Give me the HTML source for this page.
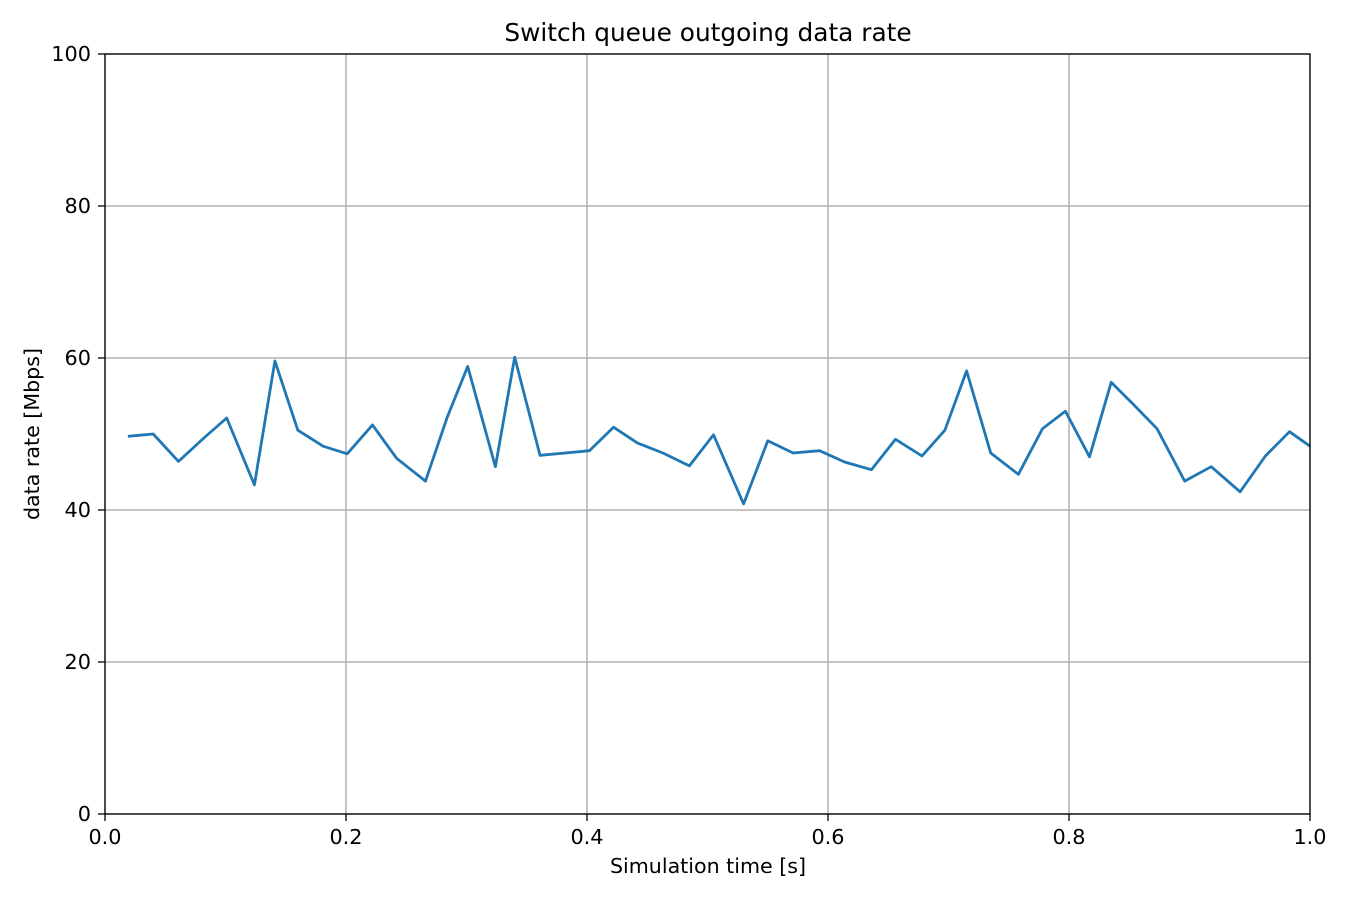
<!DOCTYPE html>
<html><head><meta charset="utf-8"><style>
body{margin:0;background:#fff}
svg text{font-family:"DejaVu Sans","Liberation Sans",sans-serif;fill:#000}
</style></head><body>
<svg id="chart" width="1350" height="900" xmlns="http://www.w3.org/2000/svg">
<rect width="1350" height="900" fill="#fff"/>
<g id="grid"></g>
<path id="series" fill="none" stroke="#1f77b4" stroke-width="2.8" stroke-linejoin="round"/>
<rect x="105" y="54" width="1205" height="760" fill="none" stroke="#000" stroke-width="1.3"/>
<g id="ticks"></g>
<text x="708" y="41" font-size="24.8" text-anchor="middle">Switch queue outgoing data rate</text>
<text x="708" y="873" font-size="20.6" text-anchor="middle">Simulation time [s]</text>
<text x="0" y="0" font-size="20.6" text-anchor="middle" transform="translate(39,434) rotate(-90)">data rate [Mbps]</text>
</svg>
<script>
const times=[0.019,0.040,0.061,0.083,0.101,0.124,0.141,0.160,0.181,0.201,0.222,0.242,0.266,0.284,0.301,0.324,0.340,0.361,0.382,0.402,0.422,0.442,0.463,0.485,0.505,0.530,0.550,0.571,0.593,0.614,0.636,0.656,0.678,0.697,0.715,0.735,0.758,0.778,0.797,0.817,0.835,0.854,0.873,0.896,0.918,0.942,0.963,0.983,1.0];
const rates=[49.7,50.0,46.4,49.6,52.1,43.3,59.6,50.5,48.4,47.4,51.2,46.8,43.8,52.2,58.9,45.7,60.1,47.2,47.5,47.8,50.9,48.8,47.5,45.8,49.9,40.8,49.1,47.5,47.8,46.3,45.3,49.3,47.1,50.5,58.3,47.5,44.7,50.7,53.0,47.0,56.8,53.8,50.7,43.8,45.7,42.4,47.1,50.3,48.4];
const xTicks=[0,0.2,0.4,0.6,0.8,1.0];
const xTickLabels=["0.0","0.2","0.4","0.6","0.8","1.0"];
const yTicks=[0,20,40,60,80,100];
const yTickLabels=["0","20","40","60","80","100"];
const X=v=>105+v*1205, Y=v=>814-v*7.6;
const NS="http://www.w3.org/2000/svg";
const grid=document.getElementById('grid'), ticks=document.getElementById('ticks');
function mk(tag,attrs,parent){const e=document.createElementNS(NS,tag);for(const k in attrs)e.setAttribute(k,attrs[k]);parent.appendChild(e);return e;}
xTicks.forEach((t,i)=>{
  const g=mk('line',{x1:X(t),x2:X(t),y1:54,y2:814,stroke:'#b0b0b0','stroke-width':1.5},grid);
  
  
  const tk=mk('line',{x1:X(t),x2:X(t),y1:814,y2:821,stroke:'#000','stroke-width':1.3},ticks);
  
  
  const tx=mk('text',{x:X(t),y:844,'font-size':20.8,'text-anchor':'middle'},ticks);
  tx.textContent=xTickLabels[i];
  
  
});
yTicks.forEach((t,i)=>{
  const g=mk('line',{x1:105,x2:1310,y1:Y(t),y2:Y(t),stroke:'#b0b0b0','stroke-width':1.5},grid);
  
  
  const tk=mk('line',{x1:98,x2:105,y1:Y(t),y2:Y(t),stroke:'#000','stroke-width':1.3},ticks);
  
  
  const tx=mk('text',{x:91,y:Y(t)+7,'font-size':20.8,'text-anchor':'end'},ticks);
  tx.textContent=yTickLabels[i];
  
  
});
document.getElementById('series').setAttribute('d',times.map((t,i)=>(i?'L':'M')+X(t).toFixed(1)+' '+Y(rates[i]).toFixed(1)).join(' '));
</script>
</body></html>
